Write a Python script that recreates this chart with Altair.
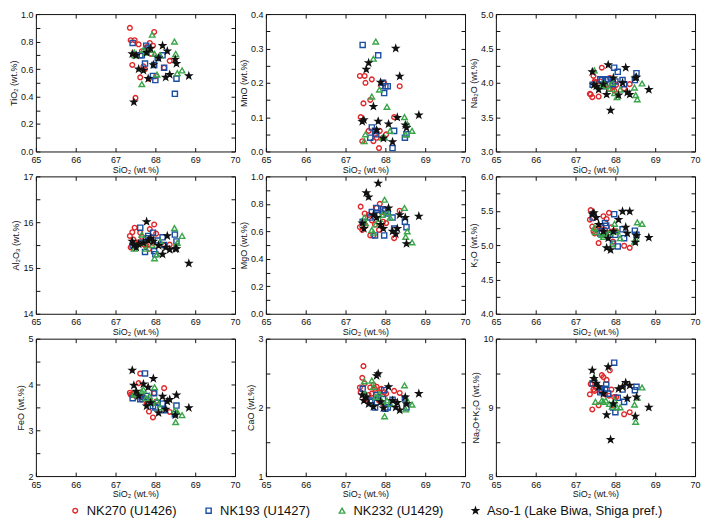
import altair as alt
import pandas as pd

# ---------------- data ----------------
SERIES = ["NK270 (U1426)", "NK193 (U1427)", "NK232 (U1429)", "Aso-1 (Lake Biwa, Shiga pref.)"]
COLORS = ["#e0282a", "#1b4fa3", "#3aa64a", "#111111"]

NK270_SIO2 = [67.36, 67.38, 67.42, 67.45, 67.48, 67.50, 67.58, 67.62, 67.66, 67.70, 67.74, 67.78, 67.84, 67.86, 67.90, 67.94, 67.97, 68.02, 68.22, 68.36]
NK270_TIO2 = [0.90, 0.81, 0.63, 0.70, 0.81, 0.39, 0.78, 0.54, 0.73, 0.62, 0.60, 0.76, 0.53, 0.79, 0.71, 0.77, 0.87, 0.55, 0.61, 0.66]
NK270_MNO = [0.22, 0.10, 0.03, 0.14, 0.22, 0.20, 0.06, 0.15, 0.21, 0.03, 0.05, 0.04, 0.01, 0.06, 0.19, 0.04, 0.20, 0.05, 0.10, 0.19]
NK270_NA2O = [3.84, 3.83, 3.79, 4.10, 4.02, 4.00, 3.80, 4.02, 4.22, 3.99, 3.97, 4.05, 3.91, 4.07, 3.96, 3.93, 3.89, 3.97, 3.92, 3.98]
NK270_AL2O3 = [15.70, 15.45, 15.78, 15.62, 15.88, 15.55, 15.56, 15.77, 15.68, 15.52, 15.50, 15.49, 15.42, 15.85, 15.67, 15.55, 15.95, 15.75, 15.49, 15.51]
NK270_MGO = [0.63, 0.78, 0.61, 0.65, 0.73, 0.64, 0.72, 0.57, 0.68, 0.57, 0.65, 0.77, 0.61, 0.80, 0.74, 0.67, 0.76, 0.66, 0.55, 0.75]
NK270_K2O = [5.37, 5.51, 5.27, 5.20, 5.17, 5.24, 5.03, 5.24, 5.26, 5.42, 5.22, 5.38, 5.47, 5.18, 5.26, 5.05, 5.20, 5.20, 4.99, 4.96]
NK270_FEO = [3.82, 3.78, 3.77, 3.80, 3.81, 3.75, 4.03, 4.24, 3.67, 3.72, 3.70, 3.58, 3.41, 3.65, 3.60, 3.28, 3.81, 3.63, 3.92, 3.40]
NK270_CAO = [2.29, 2.22, 2.43, 2.60, 2.35, 2.12, 2.18, 2.29, 2.20, 2.33, 2.27, 2.30, 2.10, 2.22, 2.27, 2.05, 2.22, 2.20, 2.24, 2.21]
NK270_ALK = [9.19, 9.34, 8.97, 9.26, 9.24, 9.30, 9.03, 9.26, 9.47, 9.44, 9.19, 9.40, 9.17, 9.54, 9.26, 9.03, 9.15, 9.15, 8.90, 8.93]

NK193_SIO2 = [67.43, 67.62, 67.66, 67.74, 67.77, 67.82, 67.94, 67.97, 68.00, 68.06, 68.18, 68.22, 68.49, 68.53]
NK193_TIO2 = [0.79, 0.70, 0.70, 0.64, 0.77, 0.75, 0.55, 0.63, 0.52, 0.68, 0.70, 0.61, 0.42, 0.53]
NK193_MNO = [0.31, 0.04, 0.07, 0.06, 0.05, 0.28, 0.20, 0.17, 0.19, 0.19, 0.01, 0.06, 0.04, 0.05]
NK193_NA2O = [3.97, 4.05, 4.04, 3.95, 4.05, 4.05, 3.98, 4.22, 4.02, 4.16, 4.04, 3.98, 4.04, 4.14]
NK193_AL2O3 = [15.49, 15.88, 15.55, 15.35, 15.65, 15.70, 15.77, 15.37, 15.30, 15.60, 15.67, 15.50, 15.73, 15.58]
NK193_MGO = [0.67, 0.70, 0.74, 0.57, 0.77, 0.72, 0.76, 0.57, 0.75, 0.73, 0.70, 0.62, 0.67, 0.63]
NK193_K2O = [5.40, 5.17, 5.20, 5.32, 5.28, 5.15, 5.02, 5.45, 5.15, 4.98, 5.23, 5.10, 5.21, 5.15]
NK193_FEO = [3.70, 3.68, 3.72, 4.24, 3.75, 3.62, 3.53, 3.81, 3.50, 3.60, 3.58, 3.44, 3.35, 3.54]
NK193_CAO = [2.27, 2.10, 2.08, 2.00, 2.18, 2.14, 2.12, 2.25, 1.98, 2.00, 2.11, 2.05, 2.13, 2.00]
NK193_ALK = [9.35, 9.22, 9.24, 9.27, 9.33, 9.20, 9.00, 9.65, 8.93, 9.14, 9.26, 9.08, 9.25, 9.30]

NK232_SIO2 = [67.47, 67.50, 67.66, 67.70, 67.76, 67.85, 67.92, 67.98, 68.04, 68.12, 68.48, 68.51, 68.55, 68.67]
NK232_TIO2 = [0.72, 0.70, 0.49, 0.74, 0.72, 0.74, 0.85, 0.71, 0.56, 0.70, 0.80, 0.71, 0.57, 0.59]
NK232_MNO = [0.03, 0.05, 0.16, 0.27, 0.32, 0.18, 0.04, 0.04, 0.13, 0.06, 0.10, 0.05, 0.08, 0.06]
NK232_NA2O = [4.18, 3.97, 3.97, 4.00, 3.95, 3.91, 4.00, 3.85, 3.79, 3.90, 3.93, 3.82, 3.76, 3.99]
NK232_AL2O3 = [15.42, 15.50, 15.73, 15.55, 15.42, 15.62, 15.50, 15.21, 15.30, 15.58, 15.87, 15.49, 15.55, 15.70]
NK232_MGO = [0.70, 0.66, 0.61, 0.59, 0.65, 0.69, 0.72, 0.83, 0.74, 0.70, 0.77, 0.56, 0.60, 0.52]
NK232_K2O = [5.25, 5.19, 5.15, 5.12, 5.15, 5.18, 5.01, 5.31, 5.20, 5.10, 5.05, 5.09, 5.33, 5.31]
NK232_FEO = [3.80, 3.78, 3.85, 3.89, 3.70, 3.75, 3.60, 3.94, 3.65, 3.50, 3.42, 3.18, 3.40, 3.33]
NK232_CAO = [2.38, 2.20, 2.39, 2.30, 2.15, 2.20, 2.08, 1.87, 2.10, 2.05, 2.32, 1.97, 2.10, 2.04]
NK232_ALK = [9.43, 9.08, 9.10, 9.08, 9.10, 9.05, 9.01, 9.10, 9.00, 9.00, 9.04, 8.79, 9.14, 9.29]

ASO_SIO2 = [67.42, 67.46, 67.52, 67.58, 67.70, 67.78, 67.82, 67.88, 67.95, 68.08, 68.18, 68.26, 68.30, 68.36, 68.50, 68.53, 68.84]
ASO_TIO2 = [0.71, 0.36, 0.70, 0.60, 0.59, 0.72, 0.53, 0.75, 0.63, 0.68, 0.77, 0.54, 0.73, 0.56, 0.67, 0.64, 0.55]
ASO_MNO = [0.087, 0.092, 0.239, 0.258, 0.131, 0.062, 0.088, 0.201, 0.038, 0.080, 0.028, 0.300, 0.099, 0.219, 0.077, 0.069, 0.106]
ASO_NA2O = [4.16, 3.97, 3.95, 3.90, 3.98, 3.83, 4.26, 3.60, 4.07, 3.82, 4.00, 4.22, 3.86, 3.83, 4.07, 4.08, 3.90]
ASO_AL2O3 = [15.58, 15.50, 15.45, 15.52, 15.55, 16.01, 15.60, 15.65, 15.58, 15.49, 15.30, 15.45, 15.70, 15.40, 15.42, 15.42, 15.10]
ASO_MGO = [0.66, 0.62, 0.88, 0.85, 0.72, 0.70, 0.95, 0.65, 0.62, 0.77, 0.60, 0.58, 0.62, 0.72, 0.70, 0.51, 0.71]
ASO_K2O = [5.45, 5.47, 5.40, 5.30, 5.20, 4.96, 5.10, 4.93, 5.20, 5.37, 5.49, 5.26, 5.17, 5.49, 5.04, 5.14, 5.11]
ASO_FEO = [4.31, 3.98, 3.85, 3.75, 4.01, 3.53, 3.94, 3.60, 4.13, 3.38, 3.74, 3.46, 3.63, 3.67, 3.33, 3.77, 3.49]
ASO_CAO = [2.18, 2.10, 2.15, 2.05, 2.01, 2.46, 2.49, 2.08, 1.99, 2.30, 2.10, 2.00, 2.07, 1.96, 2.15, 2.05, 2.20]
ASO_ALK = [9.54, 9.42, 9.35, 9.30, 9.20, 8.89, 9.59, 8.53, 9.05, 9.27, 9.30, 9.36, 9.13, 9.32, 8.87, 9.15, 9.00]

X_TICKS = [65, 66, 67, 68, 69, 70]

# panel: (title, values per series, labelled y ticks, minor step, format)
PANELS = [
    ("TiO₂ (wt.%)", [NK270_TIO2, NK193_TIO2, NK232_TIO2, ASO_TIO2], [0.0, 0.2, 0.4, 0.6, 0.8, 1.0], 0.1, ".1f"),
    ("MnO (wt.%)", [NK270_MNO, NK193_MNO, NK232_MNO, ASO_MNO], [0.0, 0.1, 0.2, 0.3, 0.4], 0.05, ".1f"),
    ("Na₂O (wt.%)", [NK270_NA2O, NK193_NA2O, NK232_NA2O, ASO_NA2O], [3.0, 3.5, 4.0, 4.5, 5.0], 0.25, ".1f"),
    ("Al₂O₃ (wt.%)", [NK270_AL2O3, NK193_AL2O3, NK232_AL2O3, ASO_AL2O3], [14, 15, 16, 17], 0.5, "d"),
    ("MgO (wt.%)", [NK270_MGO, NK193_MGO, NK232_MGO, ASO_MGO], [0.0, 0.2, 0.4, 0.6, 0.8, 1.0], 0.1, ".1f"),
    ("K₂O (wt.%)", [NK270_K2O, NK193_K2O, NK232_K2O, ASO_K2O], [4.0, 4.5, 5.0, 5.5, 6.0], 0.25, ".1f"),
    ("FeO (wt.%)", [NK270_FEO, NK193_FEO, NK232_FEO, ASO_FEO], [2, 3, 4, 5], 0.5, "d"),
    ("CaO (wt.%)", [NK270_CAO, NK193_CAO, NK232_CAO, ASO_CAO], [1, 2, 3], 0.5, "d"),
    ("Na₂O+K₂O (wt.%)", [NK270_ALK, NK193_ALK, NK232_ALK, ASO_ALK], [8, 9, 10], 0.5, "d"),
]
SIO2 = [NK270_SIO2, NK193_SIO2, NK232_SIO2, ASO_SIO2]

STAR = "M0,-1L0.235,-0.324L0.951,-0.309L0.38,0.124L0.588,0.809L0,0.4L-0.588,0.809L-0.38,0.124L-0.951,-0.309L-0.235,-0.324Z"
SHAPES = ["circle", "square", "triangle-up", STAR]
FILLS = ["transparent", "transparent", "transparent", "#111111"]
SIZES = [22, 36, 40, 125]

W, H = 200, 138
ROW_GAP, COL_GAP = 25, 31
TICK = 4
FONT = "Liberation Sans"


def make_panel(title, values, yticks, minor, fmt):
    rows = []
    for name, xs, ys in zip(SERIES, SIO2, values):
        for xv, yv in zip(xs, ys):
            rows.append({"SiO2": xv, "value": yv, "Sample": name})
    df = pd.DataFrame(rows)
    lo, hi = yticks[0], yticks[-1]
    n = int(round((hi - lo) / minor))
    yvals = [round(lo + i * minor, 4) for i in range(n + 1)]
    step = yticks[1] - yticks[0]
    lab = (f"abs((datum.value - {lo})/{step} - round((datum.value - {lo})/{step})) < 0.001"
           f" ? format(datum.value, '{fmt}') : ''")
    xs = alt.Scale(domain=[65, 70], nice=False, zero=False)
    ysc = alt.Scale(domain=[lo, hi], nice=False, zero=False)
    common = dict(tickSize=TICK, offset=-TICK, domain=False, grid=False,
                  labelFlush=False, labelOverlap=False, tickColor="#111")
    pts = alt.Chart(df).mark_point(filled=False, strokeWidth=1.4, opacity=1).encode(
        x=alt.X("SiO2:Q", scale=xs,
                axis=alt.Axis(title="SiO₂ (wt.%)", values=X_TICKS, format="d",
                              labelPadding=4, titlePadding=1, orient="bottom", **common)),
        y=alt.Y("value:Q", scale=ysc,
                axis=alt.Axis(title=title, values=yvals, labelExpr=lab,
                              labelPadding=3, titlePadding=2, orient="left", **common)),
        color=alt.Color("Sample:N", title=None, scale=alt.Scale(domain=SERIES, range=COLORS)),
        fill=alt.Fill("Sample:N", title=None, scale=alt.Scale(domain=SERIES, range=FILLS)),
        shape=alt.Shape("Sample:N", title=None, scale=alt.Scale(domain=SERIES, range=SHAPES)),
        size=alt.Size("Sample:N", title=None, scale=alt.Scale(domain=SERIES, range=SIZES)),
    )
    mirror = alt.Chart(df).mark_point(opacity=0).encode(
        x=alt.X("SiO2:Q", scale=xs,
                axis=alt.Axis(title=None, values=X_TICKS, labels=False, orient="top", **common)),
        y=alt.Y("value:Q", scale=ysc,
                axis=alt.Axis(title=None, values=yvals, labels=False, orient="right", **common)),
    )
    return alt.layer(pts, mirror).resolve_axis(x="independent", y="independent").properties(
        width=W, height=H)


panels = [make_panel(*p) for p in PANELS]

chart = alt.concat(*panels, columns=3, bounds="flush",
                   spacing={"row": ROW_GAP, "column": COL_GAP}).properties(
    padding={"left": 0, "top": 0, "right": 0, "bottom": 0}
).configure_view(
    stroke="#111", strokeWidth=1
).configure_axis(
    labelFont=FONT, titleFont=FONT, labelFontSize=9, titleFontSize=9,
    titleFontWeight="normal", labelColor="#111", titleColor="#111"
).configure_legend(
    orient="none", legendX=33, legendY=3 * H + 2 * ROW_GAP + 28, direction="horizontal",
    labelFont=FONT, labelFontSize=13, labelLimit=400,
    labelColor="#111", columnPadding=25, symbolStrokeWidth=1.4, labelOffset=5
)

chart.save("out.html", embed_options={"renderer": "svg", "actions": False})
